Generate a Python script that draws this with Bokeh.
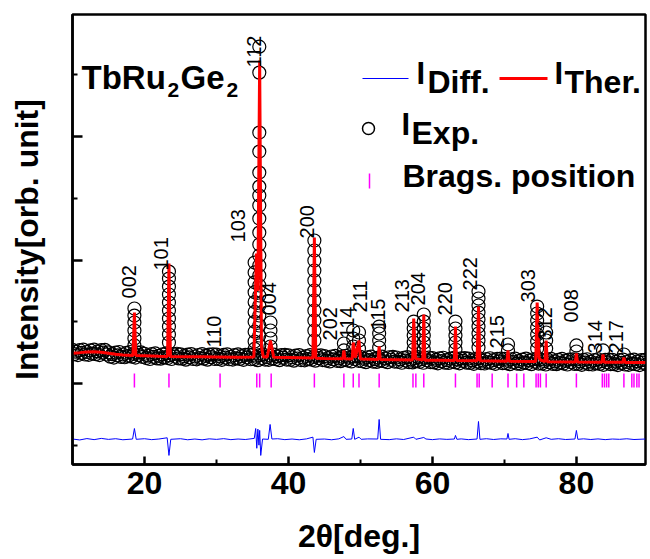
import numpy as np
from bokeh.plotting import figure
from bokeh.models import FixedTicker, Range1d, CustomJSTickFormatter
from bokeh.core.properties import value
from bokeh.embed import file_html
from bokeh.resources import INLINE

# ---------------- data ----------------
# experimental background points (2theta every 0.25 deg from 10.0)
exp_bg_start, exp_bg_step = 10.0, 0.25
exp_bg_y = [
    545, 475, 515, 460, 540, 495, 550, 470, 510, 465, 535, 485, 550, 475, 520, 460, 540, 500, 545, 470,
    505, 435, 475, 420, 500, 455, 510, 430, 470, 425, 495, 445, 510, 435, 480, 420, 500, 460, 505, 430,
    482, 412, 452, 397, 477, 432, 487, 407, 447, 402, 472, 422, 487, 412, 457, 397, 477, 437, 482, 407,
    472, 402, 442, 387, 467, 422, 477, 397, 437, 392, 462, 412, 477, 402, 447, 387, 467, 427, 472, 397,
    468, 398, 438, 383, 463, 418, 473, 393, 433, 388, 458, 408, 473, 398, 443, 383, 463, 423, 468, 393,
    463, 393, 433, 378, 458, 413, 468, 388, 428, 383, 453, 403, 468, 393, 438, 378, 458, 418, 463, 388,
    455, 385, 425, 370, 450, 405, 460, 380, 420, 375, 445, 395, 460, 385, 430, 370, 450, 410, 455, 380,
    442, 372, 412, 357, 437, 392, 447, 367, 407, 362, 432, 382, 447, 372, 417, 357, 437, 397, 442, 367,
    430, 360, 400, 345, 425, 380, 435, 355, 395, 350, 420, 370, 435, 360, 405, 345, 425, 385, 430, 355,
    421, 351, 391, 336, 416, 371, 426, 346, 386, 341, 411, 361, 426, 351, 396, 336, 416, 376, 421, 346,
    412, 342, 382, 327, 407, 362, 417, 337, 377, 332, 402, 352, 417, 342, 387, 327, 407, 367, 412, 337,
    404, 334, 374, 319, 399, 354, 409, 329, 369, 324, 394, 344, 409, 334, 379, 319, 399, 359, 404, 329,
    398, 328, 368, 313, 393, 348, 403, 323, 363, 318, 388, 338, 403, 328, 373, 313, 393, 353, 398, 323,
    393, 323, 363, 308, 388, 343, 398, 318, 358, 313, 383, 333, 398, 323, 368, 308, 388, 348, 393, 318,
    388, 318, 358, 303, 383, 338, 393, 313, 353, 308, 378, 328, 393, 318, 363, 303, 383, 343, 388, 313,
    383, 313, 353, 298, 378, 333, 388, 308, 348, 303, 373, 323, 388, 313, 358, 298, 378, 338, 383, 308,
]

# experimental points on the peaks (vertical stacks of circles)
exp_stack_x = [18.6, 23.4, 35.3, 35.95, 37.5, 43.6, 47.7, 49.0, 49.8, 52.6,
               57.4, 58.8, 63.2, 66.4, 70.5, 74.55, 75.8, 80.0, 83.7, 86.6]
exp_stack_y = [
    [1215, 1101, 988, 859, 729, 616],
    [1814, 1701, 1571, 1442, 1312, 1183, 1053, 923, 794, 664],
    [1960, 1800, 1640, 1480, 1320, 1160, 1000, 840, 680, 560],
    [5459, 5038, 4066, 3758, 3418, 3191, 3046, 2884, 2673, 2446, 2252,
     2074, 1912, 1750, 1588, 1426, 1264, 1102, 940, 778, 616],
    [988, 859, 729, 599],
    [2317, 2155, 1993, 1831, 1669, 1507, 1345, 1183, 1021, 859, 697],
    [648, 535],
    [859, 729, 599],
    [826, 697, 567],
    [923, 810, 697, 583],
    [1004, 891, 778, 664, 551],
    [1118, 1004, 891, 778, 664, 551],
    [1004, 891, 778, 664, 551],
    [1490, 1377, 1264, 1150, 1037, 923, 810, 697, 583],
    [632, 535],
    [1247, 1134, 1021, 907, 794, 680, 567],
    [826, 697, 567],
    [616, 518],
    [535],
    [470],
]

# calculated profile (I_Ther.) vertices
calc_x = [10.0, 11.0, 12.0, 13.0, 14.0, 15.0, 16.0, 17.0, 18.4, 18.6, 18.8, 20.0,
          22.0, 23.2, 23.4, 23.6, 26.0, 28.0, 30.0, 33.0, 35.2, 35.55, 35.75, 36.0,
          36.25, 36.5, 37.05, 37.5, 37.95, 40.0, 43.4, 43.6, 43.8, 45.0, 47.55, 47.7,
          47.85, 48.85, 49.0, 49.3, 49.8, 50.0, 52.45, 52.6, 52.75, 55.0, 57.25, 57.4,
          57.65, 58.65, 58.8, 58.95, 61.0, 63.05, 63.2, 63.35, 66.2, 66.4, 66.6, 70.35,
          70.5, 70.65, 74.35, 74.55, 74.8, 75.0, 75.65, 75.8, 75.95, 79.85, 80.0, 80.15,
          83.55, 83.7, 83.85, 86.45, 86.6, 86.75, 89.6]
calc_y = [490, 500, 512, 515, 505, 490, 475, 462, 455, 1150, 452, 448,
          440, 437, 1944, 436, 434, 432, 430, 427, 430, 2106, 1500, 5233,
          600, 430, 430, 697, 425, 420, 412, 2365, 410, 406, 400, 535,
          400, 398, 664, 420, 697, 396, 390, 600, 389, 385, 381, 1053,
          400, 379, 1118, 378, 376, 374, 923, 373, 368, 1247, 367, 361,
          535, 360, 356, 1312, 420, 380, 355, 697, 354, 350, 486, 349,
          346, 470, 345, 343, 420, 342, 340]

# difference curve (I_Diff.) vertices
diff_x = [10.0, 11.0, 12.0, 13.0, 14.0, 15.0, 16.0, 17.0, 18.35, 18.6, 18.85, 20.0,
          21.0, 22.0, 23.15, 23.4, 23.65, 25.0, 26.0, 27.0, 28.0, 29.0, 30.0, 31.0,
          32.0, 33.0, 34.0, 35.25, 35.45, 35.6, 35.75, 35.9, 36.0, 36.15, 36.4, 37.2,
          37.45, 37.7, 38.5, 39.5, 40.5, 41.5, 42.5, 43.4, 43.6, 43.85, 45.0, 46.0,
          47.0, 47.7, 48.0, 48.8, 49.0, 49.2, 49.8, 50.1, 51.0, 52.4, 52.6, 52.8,
          54.0, 55.0, 56.0, 57.4, 57.7, 58.8, 59.1, 60.0, 61.0, 62.0, 63.05, 63.2,
          63.4, 64.0, 65.0, 66.2, 66.4, 66.6, 67.5, 68.5, 69.5, 70.35, 70.5, 70.65,
          71.5, 72.5, 73.5, 74.55, 74.9, 75.8, 76.5, 77.5, 78.5, 79.8, 80.0, 80.2,
          81.0, 82.0, 83.0, 84.0, 85.0, 86.0, 87.0, 88.0, 89.6]
diff_y = [-900, -915, -893, -910, -890, -906, -895, -912, -900, -730, -905, -895,
          -910, -900, -880, -1166, -905, -895, -912, -900, -913, -897, -906, -894,
          -910, -900, -908, -890, -730, -1050, -740, -1000, -760, -1166, -900, -905,
          -664, -900, -895, -910, -900, -912, -898, -870, -1118, -905, -900, -912,
          -897, -860, -905, -900, -729, -905, -870, -905, -898, -900, -583, -905,
          -910, -897, -908, -870, -905, -875, -900, -910, -898, -906, -900, -842,
          -905, -898, -910, -900, -616, -905, -895, -908, -897, -900, -810, -905,
          -895, -910, -898, -870, -915, -880, -905, -895, -908, -900, -761, -905,
          -897, -908, -898, -910, -900, -905, -896, -908, -900]

# Bragg reflection positions
bragg_x = [18.6, 23.4, 30.5, 35.6, 36.0, 37.6, 43.6, 47.7, 49.0, 49.8, 52.6,
           57.3, 57.7, 58.8, 63.2, 66.2, 66.5, 68.3, 70.5, 71.7, 72.7, 74.4,
           74.7, 75.0, 75.8, 80.0, 83.6, 83.9, 84.2, 84.5, 86.6, 87.7, 88.0,
           88.4, 88.7]

# Miller-index annotations
hkl = ["002", "101", "110", "103", "112", "004", "200", "202", "114", "211", "115",
       "213", "204", "220", "222", "215", "303", "312", "008", "314", "217"]
hkl_label_x = [17.78, 22.36, 29.72, 33.06, 35.28, 37.36, 42.64, 45.83, 48.19, 50.0, 52.5,
               55.83, 58.06, 61.81, 65.28, 69.03, 73.33, 75.69, 79.31, 82.64, 85.56]
hkl_label_y = [1378, 1831, 583, 2285, 5121, 1102, 2350, 697, 729, 1151, 859,
               1151, 1264, 1102, 1507, 567, 1313, 697, 989, 486, 486]

x_ticks = [20, 40, 60, 80]

# ---------------- layout ----------------
X0, X1 = 10.0, 89.6
Y0, Y1 = -1313.0, 5980.0
W, H = 650, 559
BL, BR, BT, BB = 72, 5, 14, 95
FW = W - BL - BR
FH = H - BT - BB
FONT = "Liberation Sans"
TDY = 12  # correction between requested and drawn text baseline


def sx(px):
    return X0 + (px - BL) * (X1 - X0) / FW


def sy(py):
    return Y1 - (py - BT) * (Y1 - Y0) / FH


p = figure(width=W, height=H, x_range=Range1d(X0, X1), y_range=Range1d(Y0, Y1),
           output_backend="svg", toolbar_location=None,
           min_border_left=BL, min_border_right=BR, min_border_top=BT, min_border_bottom=BB)
p.background_fill_color = "white"
p.border_fill_color = "white"
p.grid.visible = False
p.outline_line_color = "black"
p.outline_line_width = 2.5

# axes
p.xaxis.ticker = FixedTicker(ticks=x_ticks, minor_ticks=[30, 50, 70])
p.yaxis.ticker = FixedTicker(ticks=[0, 2000, 4000], minor_ticks=[-1000, 1000, 3000, 5000])
p.yaxis.formatter = CustomJSTickFormatter(code="return ''")
for ax in (p.xaxis[0], p.yaxis[0]):
    ax.axis_line_width = 2.5
    ax.major_tick_line_width = 2.5
    ax.minor_tick_line_width = 2
    ax.major_tick_out = 0
    ax.minor_tick_out = 0
    ax.minor_tick_in = 5
    ax.axis_label_text_font = FONT
    ax.axis_label_text_font_style = "bold"
    ax.axis_label_text_font_size = "32px"
    ax.axis_label_text_color = "black"
    ax.major_label_text_font = FONT
    ax.major_label_text_font_style = "bold"
    ax.major_label_text_font_size = "32px"
    ax.major_label_text_color = "black"
p.xaxis.major_tick_in = 8
p.yaxis.major_tick_in = 10
p.xaxis.axis_label = "2θ[deg.]"
p.yaxis.axis_label = "Intensity[orb. unit]"
p.xaxis.major_label_standoff = 7
p.xaxis.axis_label_standoff = 21
p.yaxis.major_label_standoff = 0
p.yaxis.axis_label_standoff = 28

# Bragg marks
p.segment(x0=bragg_x, y0=[-65] * len(bragg_x), x1=bragg_x, y1=[160] * len(bragg_x),
          line_color="#FF00FF", line_width=1.5)

# difference curve
p.line(diff_x, diff_y, line_color="#0000FF", line_width=1)

# experimental points
ex = [exp_bg_start + i * exp_bg_step for i in range(len(exp_bg_y))]
ey = list(exp_bg_y)
for xs, ys in zip(exp_stack_x, exp_stack_y):
    ex += [xs] * len(ys)
    ey += ys
p.scatter(ex, ey, marker="circle", size=13, fill_color=None, line_color="black",
          line_width=1.2)

# calculated curve
p.line(calc_x, calc_y, line_color="#FF0000", line_width=3)

# hkl labels
p.text(x=hkl_label_x, y=hkl_label_y, text=hkl, angle=np.pi / 2,
       text_font=value(FONT), text_font_size="20px", text_align="left",
       text_baseline="middle", text_color="black")


def lab(px, py, text, size, bold=True):
    p.text(x=[sx(px)], y=[sy(py - TDY)], text=[text], text_font=value(FONT),
           text_font_size=size, text_font_style="bold" if bold else "normal",
           text_color="black", text_align="left", text_baseline="alphabetic")


# compound name
lab(81, 89, "TbRu", "33px")
lab(167, 101, "2", "21px")
lab(180, 89, "Ge", "33px")
lab(226, 101, "2", "21px")

# legend
p.line([sx(362), sx(408)], [sy(78), sy(78)], line_color="#0000FF", line_width=1)
lab(416, 85, "I", "31px")
lab(427, 93, "Diff.", "32px")
p.line([sx(499), sx(547)], [sy(78), sy(78)], line_color="#FF0000", line_width=3)
lab(554, 85, "I", "31px")
lab(564, 93, "Ther.", "32px")
p.scatter([sx(368)], [sy(128)], marker="circle", size=12, fill_color=None,
          line_color="black", line_width=1.5)
lab(401, 136, "I", "31px")
lab(411, 144, "Exp.", "32px")
p.segment(x0=[sx(369)], y0=[sy(173)], x1=[sx(369)], y1=[sy(188)],
          line_color="#FF00FF", line_width=1.5)
lab(402, 187, "Brags. position", "32px")

open("out.html", "w").write(file_html(p, INLINE))
